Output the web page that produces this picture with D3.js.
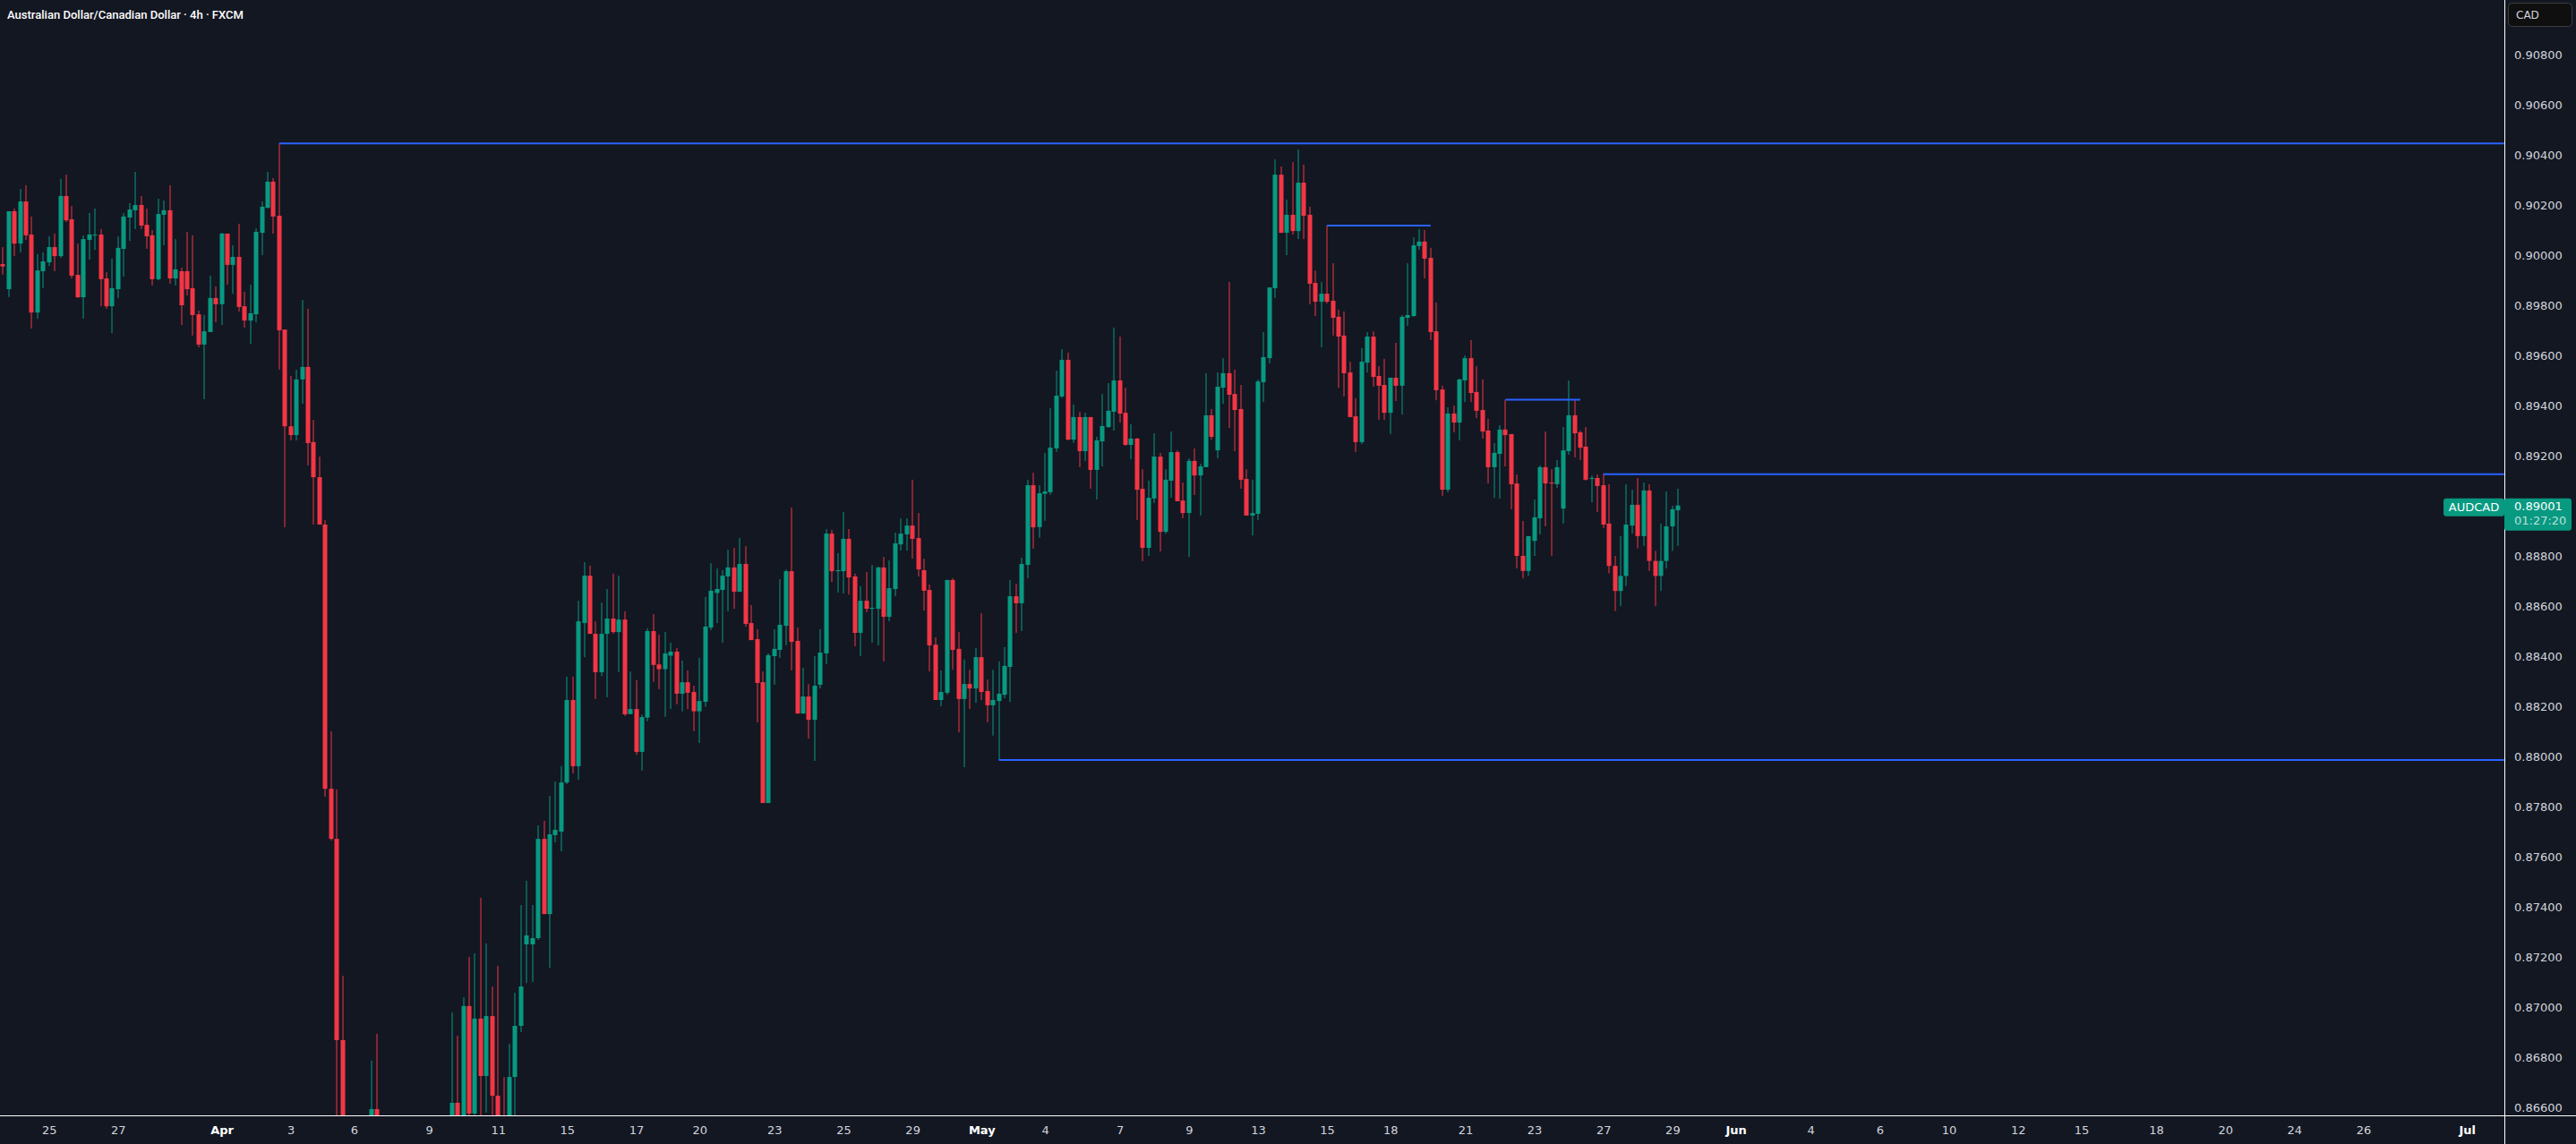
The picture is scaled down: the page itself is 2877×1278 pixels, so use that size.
<!DOCTYPE html>
<html>
<head>
<meta charset="utf-8">
<script src="https://cdn.jsdelivr.net/npm/d3@7"></script>
<style>
html, body { margin: 0; padding: 0; background: #131722; overflow: hidden; }
svg { display: block; }
</style>
</head>
<body>
<script>
// AUDCAD 4h candles, one entry per bar (bar index = position on the time axis)
var open = [
  0.89964, 0.89864, 0.90175, 0.90046, 0.90214, 0.90082, 0.89771, 0.89936, 0.89971, 0.90032,
  0.89996, 0.90236, 0.90143, 0.89921, 0.89832, 0.90061, 0.90079, 0.90082, 0.89907, 0.89796,
  0.89864, 0.90025, 0.90150, 0.90179, 0.90200, 0.90121, 0.90079, 0.89904, 0.90161, 0.90179,
  0.89907, 0.89936, 0.89936, 0.89868, 0.89764, 0.89643, 0.89693, 0.89829, 0.89804, 0.90086,
  0.89961, 0.89993, 0.89796, 0.89739, 0.89764, 0.90089, 0.90189, 0.90293, 0.90157, 0.89703,
  0.89317, 0.89282, 0.89504, 0.89554, 0.89254, 0.89114, 0.88925, 0.87871, 0.87671, 0.86868,
  0.86340, 0.86080, 0.85900, 0.86030, 0.86410, 0.86593, 0.86280, 0.85970, 0.85800, 0.85920,
  0.86170, 0.86090, 0.86260, 0.86380, 0.86150, 0.86300, 0.86440, 0.86280, 0.86400, 0.86618,
  0.86480, 0.87004, 0.86575, 0.86954, 0.86725, 0.86964, 0.86646, 0.86520, 0.86470, 0.86721,
  0.86925, 0.87250, 0.87250, 0.87275, 0.87671, 0.87371, 0.87686, 0.87700, 0.87896, 0.88225,
  0.87961, 0.88532, 0.88721, 0.88489, 0.88336, 0.88489, 0.88550, 0.88496, 0.88546, 0.88169,
  0.88189, 0.88018, 0.88155, 0.88500, 0.88367, 0.88348, 0.88402, 0.88418, 0.88250, 0.88296,
  0.88257, 0.88180, 0.88218, 0.88514, 0.88652, 0.88664, 0.88718, 0.88754, 0.88657, 0.88768,
  0.88532, 0.88468, 0.88296, 0.87814, 0.88400, 0.88425, 0.88521, 0.88739, 0.88461, 0.88171,
  0.88239, 0.88146, 0.88286, 0.88411, 0.88889, 0.88739, 0.88739, 0.88868, 0.88718, 0.88493,
  0.88621, 0.88589, 0.88589, 0.88754, 0.88557, 0.88668, 0.88846, 0.88886, 0.88921, 0.88871,
  0.88743, 0.88664, 0.88446, 0.88225, 0.88254, 0.88704, 0.88429, 0.88229, 0.88289, 0.88271,
  0.88396, 0.88261, 0.88204, 0.88221, 0.88246, 0.88357, 0.88639, 0.88611, 0.88764, 0.89082,
  0.88915, 0.89048, 0.89054, 0.89229, 0.89436, 0.89582, 0.89264, 0.89354, 0.89218, 0.89354,
  0.89143, 0.89257, 0.89314, 0.89375, 0.89500, 0.89371, 0.89243, 0.89268, 0.89068, 0.88832,
  0.89029, 0.89196, 0.88896, 0.89100, 0.89214, 0.89021, 0.88971, 0.89179, 0.89121, 0.89154,
  0.89361, 0.89221, 0.89471, 0.89529, 0.89446, 0.89386, 0.89107, 0.88961, 0.88968, 0.89493,
  0.89589, 0.89868, 0.90321, 0.90089, 0.90161, 0.90096, 0.90289, 0.90161, 0.89889, 0.89814,
  0.89846, 0.89818, 0.89754, 0.89679, 0.89532, 0.89357, 0.89254, 0.89571, 0.89675, 0.89518,
  0.89482, 0.89371, 0.89511, 0.89479, 0.89750, 0.89757, 0.90036, 0.90054, 0.89989, 0.89696,
  0.89464, 0.89064, 0.89368, 0.89332, 0.89500, 0.89589, 0.89454, 0.89382, 0.89300, 0.89154,
  0.89207, 0.89304, 0.89286, 0.89089, 0.88800, 0.88740, 0.88860, 0.88950, 0.89154, 0.89093,
  0.89086, 0.88989, 0.89218, 0.89361, 0.89293, 0.89236, 0.89107, 0.89111, 0.89082, 0.88929,
  0.88760, 0.88660, 0.88720, 0.88921, 0.89004, 0.88879, 0.89061, 0.88780, 0.88720, 0.88780,
  0.88918, 0.88982
];
var high = [
  0.90032, 0.90175, 0.90186, 0.90264, 0.90279, 0.90154, 0.90004, 0.90011, 0.90075, 0.90086,
  0.90304, 0.90321, 0.90196, 0.90046, 0.90079, 0.90168, 0.90186, 0.90104, 0.89932, 0.89986,
  0.90075, 0.90168, 0.90207, 0.90332, 0.90236, 0.90186, 0.90100, 0.90225, 0.90218, 0.90279,
  0.90064, 0.89950, 0.90093, 0.90079, 0.89779, 0.89761, 0.89918, 0.89875, 0.90089, 0.90086,
  0.90039, 0.90125, 0.89854, 0.89882, 0.90107, 0.90214, 0.90332, 0.90307, 0.90446, 0.89703,
  0.89518, 0.89543, 0.89821, 0.89786, 0.89343, 0.89196, 0.88943, 0.88100, 0.87868, 0.87125,
  0.86520, 0.86210, 0.86180, 0.86480, 0.86786, 0.86893, 0.86450, 0.86120, 0.86030, 0.86240,
  0.86400, 0.86310, 0.86490, 0.86510, 0.86370, 0.86500, 0.86540, 0.86520, 0.86979, 0.86886,
  0.87039, 0.87200, 0.87214, 0.87436, 0.87254, 0.87082, 0.87164, 0.86721, 0.86854, 0.87057,
  0.87407, 0.87504, 0.87407, 0.87725, 0.87743, 0.87843, 0.87900, 0.87961, 0.88318, 0.88318,
  0.88621, 0.88775, 0.88761, 0.88539, 0.88614, 0.88668, 0.88729, 0.88721, 0.88579, 0.88339,
  0.88304, 0.88167, 0.88511, 0.88568, 0.88486, 0.88496, 0.88454, 0.88432, 0.88382, 0.88343,
  0.88282, 0.88393, 0.88636, 0.88771, 0.88750, 0.88743, 0.88825, 0.88832, 0.88871, 0.88839,
  0.88604, 0.88507, 0.88339, 0.88411, 0.88507, 0.88707, 0.88746, 0.88993, 0.88514, 0.88354,
  0.88289, 0.88400, 0.88507, 0.88907, 0.88904, 0.88811, 0.88975, 0.88907, 0.88729, 0.88679,
  0.88736, 0.88764, 0.88757, 0.88796, 0.88782, 0.88893, 0.88950, 0.88950, 0.89104, 0.88971,
  0.88789, 0.88686, 0.88475, 0.88343, 0.88704, 0.88711, 0.88496, 0.88386, 0.88346, 0.88432,
  0.88571, 0.88307, 0.88346, 0.88379, 0.88436, 0.88704, 0.88689, 0.88793, 0.89104, 0.89132,
  0.89082, 0.89211, 0.89389, 0.89539, 0.89625, 0.89611, 0.89404, 0.89375, 0.89371, 0.89354,
  0.89275, 0.89446, 0.89489, 0.89711, 0.89675, 0.89471, 0.89325, 0.89271, 0.89146, 0.89100,
  0.89289, 0.89211, 0.89146, 0.89296, 0.89221, 0.89093, 0.89189, 0.89229, 0.89168, 0.89529,
  0.89386, 0.89532, 0.89589, 0.89893, 0.89543, 0.89482, 0.89146, 0.89104, 0.89504, 0.89693,
  0.89871, 0.90382, 0.90354, 0.90221, 0.90371, 0.90421, 0.90361, 0.90193, 0.89939, 0.89893,
  0.90118, 0.89968, 0.89782, 0.89775, 0.89575, 0.89429, 0.89629, 0.89693, 0.89696, 0.89557,
  0.89586, 0.89511, 0.89650, 0.89761, 0.89968, 0.90071, 0.90104, 0.90100, 0.90029, 0.89811,
  0.89479, 0.89393, 0.89400, 0.89507, 0.89600, 0.89661, 0.89557, 0.89504, 0.89346, 0.89250,
  0.89321, 0.89423, 0.89286, 0.89125, 0.88939, 0.88879, 0.89025, 0.89161, 0.89296, 0.89146,
  0.89182, 0.89314, 0.89500, 0.89421, 0.89300, 0.89314, 0.89121, 0.89125, 0.89129, 0.89086,
  0.88800, 0.88879, 0.89086, 0.89064, 0.89111, 0.89093, 0.89086, 0.88820, 0.88929, 0.89057,
  0.89000, 0.89068
];
var low = [
  0.89923, 0.89833, 0.89996, 0.90011, 0.90061, 0.89707, 0.89746, 0.89868, 0.89957, 0.89936,
  0.89989, 0.90132, 0.89907, 0.89829, 0.89746, 0.89982, 0.90021, 0.89796, 0.89786, 0.89689,
  0.89829, 0.89914, 0.90057, 0.90104, 0.90104, 0.90025, 0.89879, 0.89900, 0.90039, 0.89886,
  0.89879, 0.89721, 0.89839, 0.89679, 0.89632, 0.89425, 0.89693, 0.89732, 0.89721, 0.89882,
  0.89846, 0.89775, 0.89711, 0.89646, 0.89732, 0.90000, 0.90186, 0.90086, 0.89543, 0.88914,
  0.89261, 0.89261, 0.89407, 0.89161, 0.88925, 0.88925, 0.87839, 0.87664, 0.86310, 0.86280,
  0.86010, 0.85750, 0.85600, 0.85970, 0.86320, 0.86190, 0.85880, 0.85710, 0.85660, 0.85850,
  0.86020, 0.85910, 0.86120, 0.86080, 0.86000, 0.86190, 0.86200, 0.86150, 0.86330, 0.86400,
  0.86440, 0.86500, 0.86510, 0.86520, 0.86579, 0.86550, 0.86450, 0.86410, 0.86430, 0.86520,
  0.86900, 0.87096, 0.87100, 0.87268, 0.87371, 0.87157, 0.87657, 0.87621, 0.87889, 0.87932,
  0.87907, 0.88396, 0.88489, 0.88229, 0.88321, 0.88236, 0.88489, 0.88336, 0.88161, 0.88169,
  0.88006, 0.87944, 0.88140, 0.88298, 0.88268, 0.88158, 0.88189, 0.88208, 0.88180, 0.88189,
  0.88101, 0.88054, 0.88198, 0.88504, 0.88532, 0.88454, 0.88579, 0.88589, 0.88657, 0.88518,
  0.88464, 0.88136, 0.87814, 0.87814, 0.88286, 0.88393, 0.88443, 0.88343, 0.88171, 0.88171,
  0.88071, 0.87982, 0.88271, 0.88368, 0.88696, 0.88654, 0.88650, 0.88646, 0.88439, 0.88400,
  0.88575, 0.88454, 0.88443, 0.88379, 0.88539, 0.88639, 0.88821, 0.88821, 0.88789, 0.88718,
  0.88582, 0.88339, 0.88225, 0.88200, 0.88246, 0.88346, 0.88096, 0.87957, 0.88189, 0.88214,
  0.88225, 0.88136, 0.88083, 0.87986, 0.88232, 0.88218, 0.88493, 0.88500, 0.88711, 0.88829,
  0.88873, 0.88940, 0.89044, 0.89215, 0.89430, 0.89261, 0.89251, 0.89154, 0.89179, 0.89068,
  0.89025, 0.89157, 0.89311, 0.89300, 0.89332, 0.89239, 0.89186, 0.88943, 0.88779, 0.88800,
  0.89011, 0.88818, 0.88889, 0.89032, 0.89018, 0.88950, 0.88796, 0.89043, 0.88961, 0.89154,
  0.89264, 0.89189, 0.89407, 0.89311, 0.89218, 0.89068, 0.88961, 0.88882, 0.88943, 0.89414,
  0.89568, 0.89829, 0.90089, 0.90000, 0.90082, 0.90064, 0.90064, 0.89804, 0.89757, 0.89632,
  0.89807, 0.89679, 0.89471, 0.89436, 0.89354, 0.89214, 0.89246, 0.89532, 0.89475, 0.89343,
  0.89343, 0.89286, 0.89418, 0.89364, 0.89718, 0.89754, 0.90021, 0.89907, 0.89661, 0.89421,
  0.89039, 0.89054, 0.89293, 0.89261, 0.89414, 0.89414, 0.89350, 0.89268, 0.89089, 0.89032,
  0.89029, 0.89157, 0.88986, 0.88750, 0.88710, 0.88720, 0.88800, 0.88886, 0.88918, 0.88800,
  0.89071, 0.88929, 0.89204, 0.89193, 0.89182, 0.89100, 0.89014, 0.88975, 0.88911, 0.88730,
  0.88580, 0.88600, 0.88680, 0.88889, 0.88830, 0.88840, 0.88740, 0.88600, 0.88660, 0.88750,
  0.88820, 0.88840
];
var close = [
  0.89955, 0.90175, 0.90046, 0.90214, 0.90079, 0.89771, 0.89939, 0.89975, 0.90032, 0.89996,
  0.90236, 0.90139, 0.89918, 0.89832, 0.90064, 0.90082, 0.90082, 0.89904, 0.89796, 0.89868,
  0.90029, 0.90154, 0.90182, 0.90200, 0.90118, 0.90075, 0.89904, 0.90164, 0.90179, 0.89907,
  0.89943, 0.89800, 0.89864, 0.89761, 0.89643, 0.89696, 0.89829, 0.89804, 0.90086, 0.89961,
  0.89993, 0.89793, 0.89739, 0.89768, 0.90093, 0.90193, 0.90293, 0.90154, 0.89700, 0.89317,
  0.89282, 0.89504, 0.89554, 0.89250, 0.89114, 0.88925, 0.87871, 0.87671, 0.86868, 0.86340,
  0.86120, 0.85900, 0.86030, 0.86410, 0.86593, 0.86280, 0.85970, 0.85800, 0.85920, 0.86170,
  0.86090, 0.86260, 0.86380, 0.86150, 0.86300, 0.86440, 0.86280, 0.86400, 0.86618, 0.86480,
  0.87004, 0.86575, 0.86954, 0.86725, 0.86964, 0.86646, 0.86520, 0.86470, 0.86721, 0.86925,
  0.87082, 0.87286, 0.87275, 0.87671, 0.87371, 0.87689, 0.87707, 0.87896, 0.88225, 0.87961,
  0.88539, 0.88721, 0.88489, 0.88336, 0.88489, 0.88550, 0.88496, 0.88546, 0.88168, 0.88189,
  0.88018, 0.88157, 0.88500, 0.88365, 0.88348, 0.88411, 0.88418, 0.88250, 0.88296, 0.88254,
  0.88180, 0.88221, 0.88518, 0.88661, 0.88668, 0.88721, 0.88754, 0.88657, 0.88768, 0.88529,
  0.88464, 0.88293, 0.87814, 0.88404, 0.88429, 0.88525, 0.88739, 0.88457, 0.88171, 0.88239,
  0.88146, 0.88282, 0.88414, 0.88889, 0.88739, 0.88743, 0.88868, 0.88714, 0.88493, 0.88621,
  0.88589, 0.88593, 0.88754, 0.88557, 0.88671, 0.88850, 0.88889, 0.88921, 0.88868, 0.88746,
  0.88661, 0.88443, 0.88225, 0.88257, 0.88704, 0.88425, 0.88229, 0.88289, 0.88271, 0.88396,
  0.88257, 0.88204, 0.88225, 0.88250, 0.88361, 0.88639, 0.88611, 0.88768, 0.89082, 0.88914,
  0.89050, 0.89057, 0.89232, 0.89439, 0.89582, 0.89264, 0.89354, 0.89218, 0.89354, 0.89143,
  0.89261, 0.89318, 0.89379, 0.89500, 0.89368, 0.89243, 0.89268, 0.89064, 0.88832, 0.89032,
  0.89196, 0.88896, 0.89104, 0.89214, 0.89018, 0.88971, 0.89179, 0.89121, 0.89157, 0.89361,
  0.89275, 0.89475, 0.89529, 0.89443, 0.89382, 0.89104, 0.88961, 0.88971, 0.89496, 0.89593,
  0.89871, 0.90321, 0.90089, 0.90161, 0.90096, 0.90289, 0.90157, 0.89886, 0.89814, 0.89846,
  0.89814, 0.89750, 0.89675, 0.89529, 0.89354, 0.89254, 0.89575, 0.89675, 0.89514, 0.89479,
  0.89371, 0.89511, 0.89479, 0.89754, 0.89761, 0.90039, 0.90054, 0.89986, 0.89693, 0.89461,
  0.89064, 0.89368, 0.89332, 0.89504, 0.89589, 0.89450, 0.89379, 0.89296, 0.89154, 0.89211,
  0.89304, 0.89282, 0.89086, 0.88800, 0.88740, 0.88879, 0.88954, 0.89154, 0.89089, 0.89089,
  0.89154, 0.89221, 0.89361, 0.89289, 0.89232, 0.89104, 0.89111, 0.89079, 0.88925, 0.88760,
  0.88660, 0.88720, 0.88925, 0.89004, 0.88879, 0.89061, 0.88780, 0.88720, 0.88780, 0.88918,
  0.88986, 0.89001
];

// drawn levels: price, first bar, last bar (null = runs to the price scale)
var levelPrice = [0.90446, 0.90118, 0.89423, 0.89126, 0.87986];
var levelFrom = [48, 230, 261, 278, 173];
var levelTo = [null, 248, 274, null, null];

// time axis labels (bar index -> label), months shown bold
var dayIdx = [8, 20, 38, 50, 61, 74, 86, 98, 110, 121, 134, 146, 158, 170, 181, 194, 206, 218,
  230, 241, 254, 266, 278, 290, 301, 314, 326, 338, 350, 361, 374, 386, 398, 410, 428];
var dayLbl = ["25", "27", "Apr", "3", "6", "9", "11", "15", "17", "20", "23", "25", "29", "May",
  "4", "7", "9", "13", "15", "18", "21", "23", "27", "29", "Jun", "4", "6", "10", "12", "15",
  "18", "20", "24", "26", "Jul"];
var priceTicks = [0.866, 0.868, 0.870, 0.872, 0.874, 0.876, 0.878, 0.880, 0.882, 0.884, 0.886,
  0.888, 0.890, 0.892, 0.894, 0.896, 0.898, 0.900, 0.902, 0.904, 0.906, 0.908];

var symbol = "AUDCAD", countdown = "01:27:20";

// page / plot geometry
var W = 2877, H = 1278;
var plotR = 2797, plotB = 1246;
var upCol = "#089981", downCol = "#f23645", lineCol = "#2962ff";
var font = "'DejaVu Sans', sans-serif";

var svg = d3.select("body").append("svg")
    .attr("width", W)
    .attr("height", H);

svg.append("rect").attr("width", W).attr("height", H).attr("fill", "#131722");

var x = d3.scaleLinear().domain([-0.5, 434.5]).range([0, plotR]);
var y = d3.scaleLinear().domain([0.865679, 0.910179]).range([plotB, 0]);

svg.append("clipPath").attr("id", "plot")
  .append("rect").attr("width", plotR).attr("height", plotB);

var plot = svg.append("g").attr("clip-path", "url(#plot)");

var bars = open.map(function(o, i) {
  return {i: i, o: o, h: high[i], l: low[i], c: close[i]};
});
var bw = (x(1) - x(0)) * 0.78;

// wicks
plot.selectAll(".wick")
  .data(bars)
  .enter().append("rect")
    .attr("class", "wick")
    .attr("x", function(d) { return Math.round(x(d.i)) - 0.5; })
    .attr("y", function(d) { return y(d.h); })
    .attr("width", 1)
    .attr("height", function(d) { return Math.max(1, y(d.l) - y(d.h)); })
    .attr("fill", function(d) { return d.c >= d.o ? upCol : downCol; });

// bodies
plot.selectAll(".body")
  .data(bars)
  .enter().append("rect")
    .attr("class", "body")
    .attr("x", function(d) { return Math.round(x(d.i)) - bw / 2; })
    .attr("y", function(d) { return y(Math.max(d.o, d.c)); })
    .attr("width", bw)
    .attr("height", function(d) { return Math.max(1, Math.abs(y(d.o) - y(d.c))); })
    .attr("fill", function(d) { return d.c >= d.o ? upCol : downCol; });

// horizontal levels
plot.selectAll(".level")
  .data(levelPrice)
  .enter().append("line")
    .attr("class", "level")
    .attr("x1", function(d, k) { return x(levelFrom[k]); })
    .attr("x2", function(d, k) { return levelTo[k] === null ? plotR : x(levelTo[k]); })
    .attr("y1", function(d) { return y(d); })
    .attr("y2", function(d) { return y(d); })
    .attr("stroke", lineCol)
    .attr("stroke-width", 2);

// price scale
var yAxis = svg.append("g")
    .attr("transform", "translate(" + plotR + ",0)")
    .call(d3.axisRight(y)
      .tickValues(priceTicks)
      .tickFormat(d3.format(".5f"))
      .tickSize(0)
      .tickPadding(11));
yAxis.select(".domain").remove();
yAxis.selectAll("text")
    .attr("fill", "#d1d4dc")
    .style("font-family", font)
    .style("font-size", "13px");

// time scale
var xAxis = svg.append("g")
    .attr("transform", "translate(0," + plotB + ")")
    .call(d3.axisBottom(x)
      .tickValues(dayIdx)
      .tickFormat(function(d, k) { return dayLbl[k]; })
      .tickSize(0)
      .tickPadding(12));
xAxis.select(".domain").remove();
xAxis.selectAll("text")
    .attr("fill", function(d, k) { return /^[A-Z]/.test(dayLbl[k]) ? "#ffffff" : "#d1d4dc"; })
    .style("font-weight", function(d, k) { return /^[A-Z]/.test(dayLbl[k]) ? "bold" : "normal"; })
    .style("font-family", font)
    .style("font-size", "13px");

// separators
svg.append("line")
    .attr("x1", plotR + 0.5).attr("x2", plotR + 0.5)
    .attr("y1", 0).attr("y2", H)
    .attr("stroke", "#ffffff").attr("stroke-width", 1);
svg.append("line")
    .attr("x1", 0).attr("x2", W)
    .attr("y1", plotB + 0.5).attr("y2", plotB + 0.5)
    .attr("stroke", "#ffffff").attr("stroke-width", 1);

// last price label
var lastY = y(close[close.length - 1]);
svg.append("rect")
    .attr("x", plotR).attr("y", lastY - 8)
    .attr("width", 75).attr("height", 36)
    .attr("rx", 3)
    .attr("fill", upCol);
svg.append("text")
    .text(d3.format(".5f")(close[close.length - 1]))
    .attr("x", plotR + 11).attr("y", lastY + 5.5)
    .attr("fill", "#ffffff")
    .style("font-family", font).style("font-size", "13px");
svg.append("text")
    .text(countdown)
    .attr("x", plotR + 11).attr("y", lastY + 21.5)
    .attr("fill", "rgba(255,255,255,0.72)")
    .style("font-family", font).style("font-size", "13px");
svg.append("rect")
    .attr("x", plotR - 68).attr("y", lastY - 8)
    .attr("width", 68).attr("height", 20)
    .attr("rx", 3)
    .attr("fill", upCol);
svg.append("text")
    .text(symbol)
    .attr("x", plotR - 34).attr("y", lastY + 6.5)
    .attr("text-anchor", "middle")
    .attr("fill", "#ffffff")
    .style("font-family", font).style("font-size", "13px");

// currency box
svg.append("rect")
    .attr("x", 2801.5).attr("y", 3.5)
    .attr("width", 71).attr("height", 26)
    .attr("rx", 4)
    .attr("fill", "#0f0f0f")
    .attr("stroke", "#3a3d45");
svg.append("text")
    .text("CAD")
    .attr("x", 2810).attr("y", 21)
    .attr("fill", "#d1d4dc")
    .style("font-family", font).style("font-size", "12px");

// title
svg.append("text")
    .text("Australian Dollar/Canadian Dollar \u00b7 4h \u00b7 FXCM")
    .attr("x", 8).attr("y", 20.5)
    .attr("fill", "#ffffff")
    .attr("textLength", 264)
    .attr("lengthAdjust", "spacingAndGlyphs")
    .style("font-family", "Roboto, sans-serif")
    .style("font-weight", 500)
    .style("font-size", "12.5px");
</script>
</body>
</html>
